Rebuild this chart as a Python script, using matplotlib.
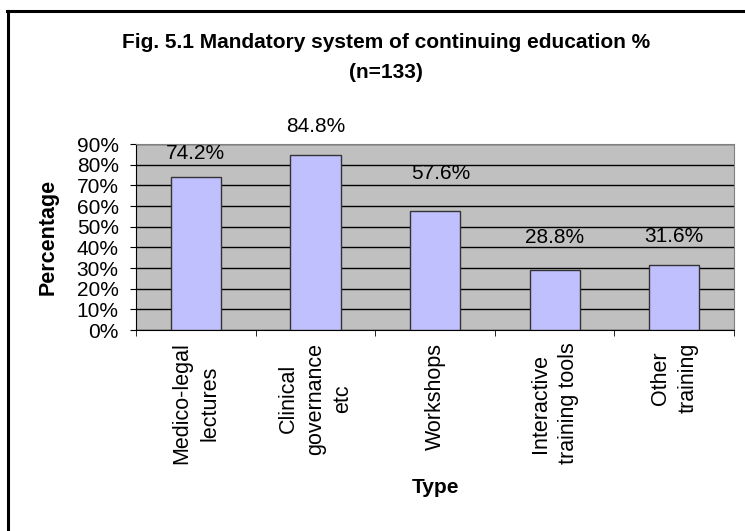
import matplotlib
matplotlib.use("Agg")
import matplotlib.pyplot as plt
from matplotlib.lines import Line2D

categories = ["Medico-legal\nlectures", "Clinical\ngovernance\netc", "Workshops",
              "Interactive\ntraining tools", "Other\ntraining"]
values = [74.2, 84.8, 57.6, 28.8, 31.6]
yticks = [0, 10, 20, 30, 40, 50, 60, 70, 80, 90]
# label offset above bar top (points), labels were placed by hand in the original
label_offsets = [17, 20, 27, 24, 20]

plt.rcParams['font.family'] = ['Liberation Sans', 'DejaVu Sans']

fig = plt.figure(figsize=(7.45, 5.31), dpi=100)
ax = fig.add_axes([0.1826, 0.3785, 0.8027, 0.3503])

ax.set_facecolor('#C0C0C0')
x = range(len(values))
ax.bar(x, values, width=0.42, color='#C0C0FF', edgecolor='#333333', linewidth=1, zorder=3)
ax.set_xlim(-0.5, len(values) - 0.5)
ax.set_ylim(0, 90)
ax.set_yticks(yticks)
ax.set_yticklabels(["%d%%" % t for t in yticks], fontsize=15)
ax.yaxis.grid(True, color='black', linewidth=1, zorder=1)
ax.set_axisbelow(True)

ax.set_xticks(x)
ax.set_xticklabels(categories, rotation=90, fontsize=15.5, va='top', ha='center',
                   multialignment='center', linespacing=1.4)
ax.tick_params(axis='x', length=0, pad=9)
ax.set_xticks([i + 0.5 for i in range(-1, len(values))], minor=True)
ax.tick_params(axis='x', which='minor', length=4.5, direction='out', color='black')
ax.tick_params(axis='y', length=4.5, direction='out', pad=8)

for s in ['top', 'right']:
    ax.spines[s].set_color('#808080')
for s in ['left', 'bottom']:
    ax.spines[s].set_color('black')

for i, v in enumerate(values):
    ax.annotate("%.1f%%" % v, (i, v), xytext=(4 if i == 2 else 0, label_offsets[i]),
                textcoords='offset points', ha='center', va='center', fontsize=15,
                annotation_clip=False)

ax.set_ylabel("Percentage", fontsize=15.5, fontweight='bold', labelpad=13)
ax.set_xlabel("Type", fontsize=15, fontweight='bold', labelpad=10)

fig.text(0.518, 0.92, "Fig. 5.1 Mandatory system of continuing education %",
         ha='center', va='center', fontsize=15, fontweight='bold')
fig.text(0.518, 0.864, "(n=133)", ha='center', va='center', fontsize=15, fontweight='bold')

# chart border: only the top and left edges show in the original crop
fig.lines.append(Line2D([0.0095, 1.0], [0.9785, 0.9785], transform=fig.transFigure,
                        color='black', linewidth=2.2))
fig.lines.append(Line2D([0.0101, 0.0101], [0.0, 0.98], transform=fig.transFigure,
                        color='black', linewidth=2.2))

fig.savefig("out.png", dpi=100)
